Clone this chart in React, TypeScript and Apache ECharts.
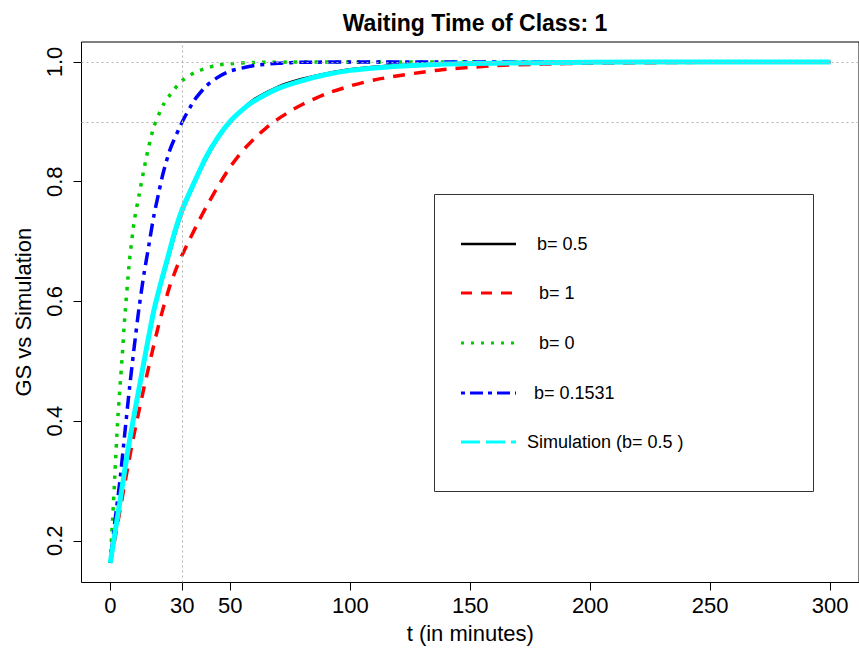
import React, { useEffect, useRef } from "react";
import * as echarts from "echarts";

// Cumulative waiting-time curves for class 1, read at selected minutes.
const tBlack = [0, 2, 4, 6, 8, 10, 12, 15, 18, 21, 24, 27, 30, 35, 40, 45, 50, 55, 60, 70, 80, 90, 100, 110, 120, 140, 160, 200, 250, 300];
const vBlack = [0.163, 0.213, 0.262, 0.314, 0.362, 0.407, 0.45, 0.514, 0.578, 0.626, 0.668, 0.712, 0.749, 0.796, 0.838, 0.873, 0.901, 0.921, 0.938, 0.959, 0.972, 0.981, 0.988, 0.992, 0.995, 0.9975, 0.999, 0.9998, 1, 1];

const tCyan = [0, 2, 4, 6, 8, 10, 12, 15, 18, 21, 24, 27, 30, 35, 40, 45, 50, 55, 60, 70, 80, 90, 100, 110, 120, 140, 160, 200, 250, 300];
const vCyan = [0.163, 0.215, 0.265, 0.318, 0.367, 0.412, 0.455, 0.52, 0.582, 0.63, 0.674, 0.718, 0.754, 0.799, 0.842, 0.875, 0.901, 0.92, 0.935, 0.956, 0.969, 0.979, 0.986, 0.99, 0.993, 0.9965, 0.998, 0.9995, 1, 1];

const tRed = [0, 2, 4, 6, 8, 10, 12, 14, 16, 18, 20, 22, 25, 28, 30, 33, 37, 40, 45, 50, 55, 60, 65, 70, 75, 80, 90, 100, 110, 120, 130, 140, 150, 160, 180, 200, 250, 300];
const vRed = [0.163, 0.205, 0.25, 0.295, 0.338, 0.38, 0.418, 0.455, 0.49, 0.525, 0.558, 0.588, 0.628, 0.66, 0.678, 0.703, 0.735, 0.758, 0.793, 0.825, 0.851, 0.872, 0.89, 0.905, 0.918, 0.929, 0.947, 0.96, 0.97, 0.977, 0.983, 0.988, 0.991, 0.994, 0.9965, 0.998, 0.9995, 1];

const tGreen = [0, 0.5, 1, 2, 3, 4, 5, 6, 8, 10, 12, 15, 18, 22, 26, 30, 35, 40, 45, 50, 60, 80, 100, 150, 200, 250, 300];
const vGreen = [0.163, 0.205, 0.238, 0.318, 0.396, 0.455, 0.51, 0.572, 0.668, 0.735, 0.778, 0.84, 0.89, 0.928, 0.951, 0.969, 0.982, 0.99, 0.995, 0.997, 0.9993, 0.9999, 1, 1, 1, 1, 1];

const tBlue = [0, 1, 2, 4, 6, 8, 10, 12, 14, 16, 18, 20, 22, 25, 30, 35, 40, 45, 50, 60, 70, 80, 100, 150, 200, 250, 300];
const vBlue = [0.163, 0.2, 0.235, 0.3, 0.378, 0.455, 0.525, 0.59, 0.645, 0.692, 0.74, 0.778, 0.814, 0.855, 0.9, 0.936, 0.96, 0.975, 0.985, 0.994, 0.998, 0.9995, 1, 1, 1, 1, 1];

const xTicks = [0, 30, 50, 100, 150, 200, 250, 300];
const yTicks = [0.2, 0.4, 0.6, 0.8, 1.0];
const refY = [1.0, 0.9];
const refX = [30];

const legendLabels = ["b= 0.5", "b= 1", "b= 0", "b= 0.1531", "Simulation (b= 0.5 )"];

const FONT = "'Liberation Sans', Arial, Helvetica, sans-serif";

const pairs = (t: number[], v: number[]) => t.map((x, i) => [x, v[i]]);

export default function App() {
  const ref = useRef<HTMLDivElement>(null);

  useEffect(() => {
    if (!ref.current) return;
    const chart = echarts.init(ref.current, null, { renderer: "svg" });

    const lineSeries = (
      name: string,
      data: number[][],
      color: string,
      width: number,
      dash: any
    ) => ({
      name,
      type: "line",
      data,
      showSymbol: false,
      symbol: "none",
      smooth: 0.2,
      lineStyle: { color, width, type: dash, cap: "butt", join: "round" },
      silent: true,
    });

    // Legend box drawn with primitive shapes, R style.
    const rowY = [244, 293, 343, 393, 442];
    const textX = [537, 539, 539, 534, 527];
    const legendStyles = [
      { stroke: "#000", lineWidth: 2.5, lineDash: null },
      { stroke: "#ff0000", lineWidth: 3, lineDash: [11, 9] },
      { stroke: "#00cd00", lineWidth: 3, lineDash: [3, 7] },
      { stroke: "#0000ff", lineWidth: 3, lineDash: [4, 5, 13, 5] },
      { stroke: "#00ffff", lineWidth: 3, lineDash: [19, 6] },
    ];
    const legendGraphics: any[] = [
      {
        type: "rect",
        shape: { x: 434.5, y: 194.5, width: 379, height: 297 },
        style: { fill: "#fff", stroke: "#333", lineWidth: 1 },
        z: 100,
      },
    ];
    legendLabels.forEach((label, i) => {
      legendGraphics.push({
        type: "line",
        shape: { x1: 461, y1: rowY[i], x2: 516, y2: rowY[i] },
        style: { ...legendStyles[i], fill: null },
        z: 101,
      });
      legendGraphics.push({
        type: "text",
        x: textX[i],
        y: rowY[i],
        style: {
          text: label,
          fontSize: 18,
          fontFamily: FONT,
          fill: "#000",
          verticalAlign: "middle",
          align: "left",
        },
        z: 101,
      });
    });

    chart.setOption({
      animation: false,
      backgroundColor: "#fff",
      title: {
        text: "Waiting Time of Class: 1",
        left: 470,
        top: 6,
        textAlign: "center",
        textStyle: { fontSize: 23, fontWeight: "bold", fontFamily: FONT, color: "#000" },
      },
      grid: {
        left: 81.5,
        top: 42,
        width: 778.5,
        height: 540.5,
        show: true,
        borderColor: "#000",
        borderWidth: 1,
        backgroundColor: "transparent",
        containLabel: false,
      },
      xAxis: {
        type: "value",
        min: -12,
        max: 312,
        name: "t (in minutes)",
        nameLocation: "middle",
        nameGap: 40,
        nameTextStyle: { fontSize: 22, fontFamily: FONT, color: "#000" },
        axisLine: { show: false, onZero: false },
        splitLine: { show: false },
        axisTick: {
          show: true,
          length: 8,
          inside: false,
          customValues: xTicks,
          lineStyle: { color: "#000", width: 1 },
        },
        axisLabel: {
          customValues: xTicks,
          margin: 12,
          fontSize: 22,
          fontFamily: FONT,
          color: "#000",
        },
      },
      yAxis: {
        type: "value",
        min: 0.1303,
        max: 1.0334,
        name: "GS vs Simulation",
        nameLocation: "middle",
        nameRotate: 90,
        nameGap: 47,
        nameTextStyle: { fontSize: 22, fontFamily: FONT, color: "#000" },
        axisLine: { show: false, onZero: false },
        splitLine: { show: false },
        axisTick: {
          show: true,
          length: 8,
          inside: false,
          customValues: yTicks,
          lineStyle: { color: "#000", width: 1 },
        },
        axisLabel: {
          customValues: yTicks,
          rotate: 90,
          margin: 16,
          fontSize: 22,
          fontFamily: FONT,
          color: "#000",
          formatter: (v: number) => v.toFixed(1),
        },
      },
      series: [
        {
          name: "guides",
          type: "line",
          data: [],
          silent: true,
          markLine: {
            silent: true,
            symbol: ["none", "none"],
            label: { show: false },
            lineStyle: { color: "#b0b0b0", width: 1, type: [2, 3] },
            data: [
              ...refY.map((y) => ({ yAxis: y })),
              ...refX.map((x) => ({ xAxis: x })),
            ],
          },
        },
        lineSeries(legendLabels[0], pairs(tBlack, vBlack), "#000000", 2.5, "solid"),
        lineSeries(legendLabels[1], pairs(tRed, vRed), "#ff0000", 3.5, [12, 9]),
        lineSeries(legendLabels[2], pairs(tGreen, vGreen), "#00cd00", 3.5, [3.5, 7]),
        lineSeries(legendLabels[3], pairs(tBlue, vBlue), "#0000ff", 3.5, [4, 6, 13, 6]),
        lineSeries(legendLabels[4], pairs(tCyan, vCyan), "#00ffff", 5, "solid"),
      ],
      graphic: legendGraphics,
    });

    return () => chart.dispose();
  }, []);

  return (
    <div
      ref={ref}
      style={{ position: "fixed", left: 0, top: 0, width: 859, height: 654 }}
    />
  );
}
